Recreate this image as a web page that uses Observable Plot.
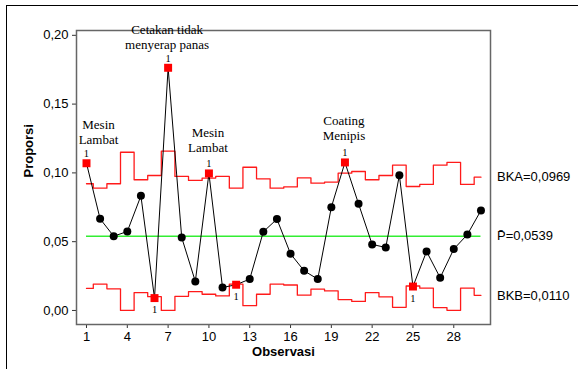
<!DOCTYPE html>
<html>
<head>
<meta charset="utf-8">
<script src="https://cdn.jsdelivr.net/npm/d3@7"></script>
<script src="https://cdn.jsdelivr.net/npm/@observablehq/plot@0.6"></script>
<style>
  html, body { margin: 0; padding: 0; background: #fff; }
  #wrap { position: relative; width: 578px; height: 369px; overflow: hidden; }
  #border { position: absolute; left: 6px; top: 5px; width: 700px; height: 500px; border-top: 1px solid #000; border-left: 1px solid #000; }
  #chart { position: absolute; left: 0; top: 0; }
</style>
</head>
<body>
<div id="wrap"><div id="border"></div><div id="chart"></div></div>
<script>
const observasi = [1,2,3,4,5,6,7,8,9,10,11,12,13,14,15,16,17,18,19,20,21,22,23,24,25,26,27,28,29,30];
const proporsi = [0.107,0.0666,0.054,0.0574,0.0833,0.009,0.1764,0.053,0.0211,0.0996,0.0167,0.0187,0.0228,0.0572,0.0664,0.0412,0.0288,0.0228,0.0751,0.1076,0.0775,0.048,0.0458,0.0983,0.0174,0.0429,0.0238,0.0446,0.0552,0.0727];
const bka = [0.0921,0.0889,0.0921,0.115,0.095,0.0981,0.1158,0.0974,0.0945,0.0962,0.0974,0.0889,0.1041,0.0957,0.0889,0.0898,0.0964,0.0925,0.0933,0.0998,0.101,0.095,0.0981,0.1056,0.0901,0.0916,0.1056,0.1076,0.0916,0.0969];
const bkb = [0.016,0.0192,0.0157,0,0.013,0.01,0,0.0103,0.0137,0.0118,0.0106,0.0192,0.0035,0.0118,0.0192,0.0185,0.0111,0.0155,0.0142,0.0079,0.0066,0.013,0.0099,0.0023,0.0178,0.0162,0.0021,0.0001,0.0162,0.011];
const pBar = 0.0539;
const xTicks = [1,4,7,10,13,16,19,22,25,28];
const yTicks = [0,0.05,0.10,0.15,0.20];
const annObs = [1,7,10,20];
const annText = ["Mesin\nLambat","Cetakan tidak\nmenyerap panas","Mesin\nLambat","Coating\nMenipis"];
const rightLabels = ["BKA=0,0969","P\u0304=0,0539","BKB=0,0110"];
const rightValues = [0.0969, 0.0539, 0.0110];

const rows = observasi.map((o,i)=>({o, p: proporsi[i], u: bka[i], l: bkb[i]}));
const high = rows.filter(d => d.p > d.u);
const low = rows.filter(d => d.p < d.l);
const flagged = high.concat(low);
const ann = annObs.map((o,i)=>({o, p: proporsi[o-1], t: annText[i]}));
const annDy = [-32, -31, -34, -35];
const annDx = [12, -1, -1, -1];
const fmt = v => v.toFixed(2).replace(".", ",");

const serif = "'Liberation Serif', 'Times New Roman', serif";

const chart = Plot.plot({
  width: 578, height: 369,
  marginLeft: 76, marginRight: 88, marginTop: 30, marginBottom: 45,
  style: {fontFamily: "'Liberation Sans', Arial, sans-serif", fontSize: "13px", background: "transparent", overflow: "visible"},
  x: {domain: [0.265, 30.7], ticks: xTicks},
  y: {domain: [-0.0102, 0.2035], ticks: yTicks},
  marks: [
    Plot.axisX({ticks: xTicks, tickSize: 4, tickPadding: 3, label: null, fontSize: 13, stroke: "#333"}),
    Plot.axisY({ticks: yTicks, tickSize: 4, tickPadding: 4, label: null, tickFormat: fmt, fontSize: 13, stroke: "#333"}),
    Plot.frame({stroke: "#666", strokeWidth: 1.5}),
    Plot.ruleY([pBar], {x1: 1, x2: 30, stroke: "#33ee33", strokeWidth: 1.5}),
    Plot.line(rows, {x: "o", y: "u", curve: "step", stroke: "#ff1a1a", strokeWidth: 1.3}),
    Plot.line(rows, {x: "o", y: "l", curve: "step", stroke: "#ff1a1a", strokeWidth: 1.3}),
    Plot.line(rows, {x: "o", y: "p", stroke: "#000", strokeWidth: 1}),
    Plot.dot(rows.filter(d => !(d.p > d.u || d.p < d.l)), {x: "o", y: "p", r: 4, fill: "#000", stroke: "none"}),
    Plot.dot(flagged, {x: "o", y: "p", r: 4.5, symbol: "square", fill: "#ff0000", stroke: "none"}),
    Plot.text(high, {x: "o", y: "p", text: () => "1", dy: -9.5, fontFamily: serif, fontSize: 10.5, fill: "#000"}),
    Plot.text(low, {x: "o", y: "p", text: () => "1", dy: 12, fontFamily: serif, fontSize: 10.5, fill: "#000"}),
    ...ann.map((a,i) => Plot.text([a], {x: "o", y: "p", text: "t", dy: annDy[i], dx: annDx[i], lineHeight: 1.15, fontFamily: serif, fontSize: 13, fill: "#000"})),
    Plot.text(rightLabels, {x: () => 30, y: (d,i) => rightValues[i], text: d => d, dx: 16, textAnchor: "start", fontSize: 13, fill: "#000"}),
    Plot.text(["Observasi"], {frameAnchor: "bottom", dy: 31, fontWeight: "bold", fontSize: 13, fill: "#000"}),
    Plot.text(["Proporsi"], {frameAnchor: "left", dx: -48, rotate: -90, fontWeight: "bold", fontSize: 13, fill: "#000"})
  ]
});
document.getElementById("chart").appendChild(chart);
</script>
</body>
</html>
